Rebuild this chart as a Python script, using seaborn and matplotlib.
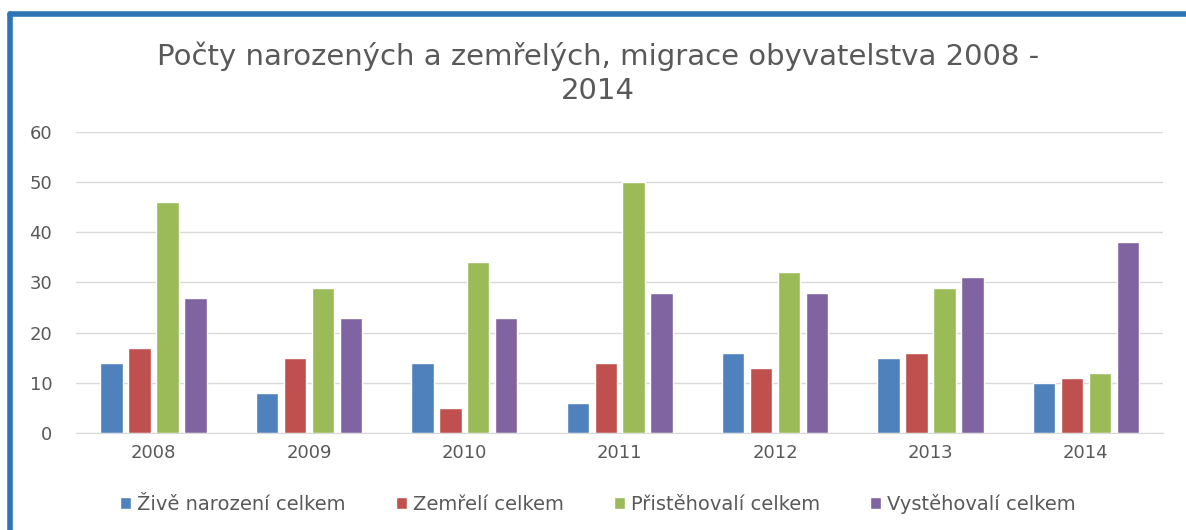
import pandas as pd
import seaborn as sns
import matplotlib.pyplot as plt
from matplotlib.lines import Line2D

years = ['2008', '2009', '2010', '2011', '2012', '2013', '2014']
series = ['Živě narození celkem', 'Zemřelí celkem', 'Přistěhovalí celkem', 'Vystěhovalí celkem']
zive = [14, 8, 14, 6, 16, 15, 10]
zemreli = [17, 15, 5, 14, 13, 16, 11]
pristeh = [46, 29, 34, 50, 32, 29, 12]
vysteh = [27, 23, 23, 28, 28, 31, 38]
colors = ['#4F81BD', '#C0504D', '#9BBB59', '#8064A2']

rows = []
for s, vals in zip(series, [zive, zemreli, pristeh, vysteh]):
    for y, v in zip(years, vals):
        rows.append({'rok': y, 'serie': s, 'pocet': v})
d = pd.DataFrame(rows)

sns.set_style('white')
plt.rcParams['font.family'] = ['DejaVu Sans']
grey = '#595959'

fig = plt.figure(figsize=(11.86, 5.30), dpi=100)
ax = fig.add_axes([0.064, 0.183, 0.917, 0.568])
sns.barplot(data=d, x='rok', y='pocet', hue='serie', palette=colors,
            width=0.72, gap=0.2, ax=ax, saturation=1, legend=True)

ax.set_ylim(0, 60)
ax.set_yticks(range(0, 61, 10))
ax.yaxis.grid(True, color='#D9D9D9', lw=1)
ax.set_axisbelow(True)
for s in ['top', 'right', 'left']:
    ax.spines[s].set_visible(False)
ax.spines['bottom'].set_color('#D9D9D9')
ax.set_xlabel('')
ax.set_ylabel('')
ax.tick_params(axis='both', length=0, labelsize=13, labelcolor=grey, pad=8)
ax.tick_params(axis='y', pad=17)

fig.text(0.504, 0.862, 'Počty narozených a zemřelých, migrace obyvatelstva 2008 -\n2014',
         ha='center', va='center', fontsize=21, color=grey, linespacing=1.25)

h, l = ax.get_legend_handles_labels()
ax.legend(h, l, loc='center', bbox_to_anchor=(0.48, -0.235), ncol=4, frameon=False,
          fontsize=14, labelcolor=grey, handlelength=0.55, handleheight=0.55,
          handletextpad=0.3, columnspacing=2.6)

# modrý rámeček
fig.add_artist(Line2D([10 / 1186, 1], [1 - 14 / 530] * 2, color='#2E75B6', lw=4,
                      transform=fig.transFigure))
fig.add_artist(Line2D([10 / 1186] * 2, [0, 1 - 14 / 530], color='#2E75B6', lw=4,
                      transform=fig.transFigure))

fig.savefig('out.png', dpi=100)
